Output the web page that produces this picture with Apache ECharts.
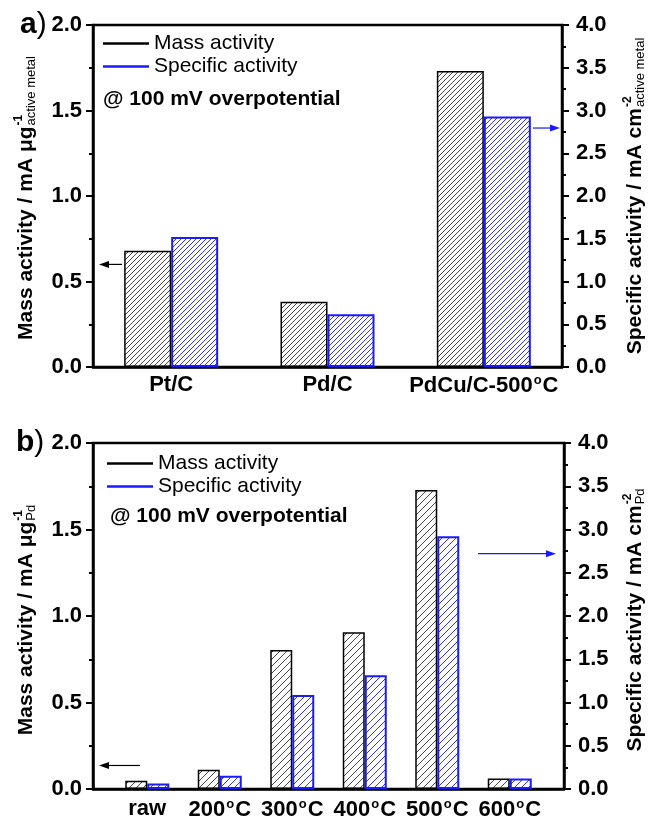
<!DOCTYPE html>
<html>
<head>
<meta charset="utf-8">
<script src="https://cdn.jsdelivr.net/npm/echarts@6/dist/echarts.min.js"></script>
<style>
  html, body { margin: 0; padding: 0; background: #fff; }
  #chart { width: 651px; height: 816px; }
</style>
</head>
<body>
<div id="chart"></div>
<script>
// Panel a: catalyst comparison at 100 mV overpotential
const catalysts = ['Pt/C', 'Pd/C', 'PdCu/C-500°C'];
const catalystMass = [0.68, 0.382, 1.731];        // mA per ug active metal
const catalystSpecific = [1.52, 0.616, 2.93];     // mA per cm2 active metal

// Panel b: PdCu/C annealing temperature series
const temps = ['raw', '200°C', '300°C', '400°C', '500°C', '600°C'];
const tempMass = [0.048, 0.111, 0.804, 0.906, 1.729, 0.061];   // mA per ug Pd
const tempSpecific = [0.065, 0.153, 1.088, 1.315, 2.923, 0.122]; // mA per cm2 Pd

const FONT = '"Liberation Sans", Arial, sans-serif';
const BLUE = '#1a1aff';

function hatch(color, step) {
  const c = document.createElement('canvas');
  c.width = step; c.height = step;
  const g = c.getContext('2d');
  g.strokeStyle = color;
  g.lineWidth = 0.9;
  g.beginPath();
  g.moveTo(-1, step + 1); g.lineTo(step + 1, -1);
  g.moveTo(-1, 1); g.lineTo(1, -1);
  g.moveTo(step - 1, step + 1); g.lineTo(step + 1, step - 1);
  g.stroke();
  return { image: c, repeat: 'repeat' };
}

const labelRich = { o: { fontSize: 13, fontWeight: 'bold', fontFamily: FONT, color: '#000', verticalAlign: 'top', padding: [0, 1, 10, 1] } };
function catLabel(v) { return v.replace('°', '{o|o}'); }

const tickLabel = v => v.toFixed(1);

function valueAxis(gridIndex, max, position, margin) {
  return {
    type: 'value', gridIndex, position, min: 0, max, interval: 0.5,
    axisLine: { show: true, lineStyle: { color: '#000', width: 2.5 } },
    axisTick: { show: true, inside: false, length: 7, lineStyle: { color: '#000', width: 2 } },
    minorTick: { show: true, splitNumber: 2, length: 4, lineStyle: { color: '#000', width: 2 } },
    splitLine: { show: false },
    axisLabel: { formatter: tickLabel, fontSize: 22, fontWeight: 'bold', fontFamily: FONT, color: '#000', margin }
  };
}

function hiddenAxis(gridIndex, max) {
  return { type: 'value', gridIndex, min: 0, max, interval: 0.5, show: false, splitLine: { show: false } };
}

function legendBlock(left, top) {
  return {
    orient: 'vertical', left, top, padding: 0, itemWidth: 46, itemHeight: 2.5, itemGap: 2,
    selectedMode: false, icon: 'rect',
    textStyle: { fontSize: 21, fontFamily: FONT, color: '#000' },
    data: [
      { name: 'Mass activity', itemStyle: { color: '#000', borderWidth: 0 } },
      { name: 'Specific activity', itemStyle: { color: BLUE, borderWidth: 0 } }
    ]
  };
}

function categoryLabel(margin) {
  return { formatter: catLabel, rich: labelRich, interval: 0, hideOverlap: false, fontSize: 22, fontWeight: 'bold', fontFamily: FONT, color: '#000', margin };
}

const option = {
  backgroundColor: '#fff',
  animation: false,
  textStyle: { fontFamily: FONT },
  grid: [
    { left: 93, width: 469, top: 25, height: 342, show: true, borderColor: '#000', borderWidth: 2.5, outerBoundsMode: 'none', containLabel: false },
    { left: 93, width: 471, top: 443, height: 346, show: true, borderColor: '#000', borderWidth: 2.5, outerBoundsMode: 'none', containLabel: false },
    { left: 111, width: 435, top: 443, height: 346, show: false, outerBoundsMode: 'none', containLabel: false }
  ],
  legend: [legendBlock(103, 33), legendBlock(107, 453)],
  xAxis: [
    {
      type: 'category', gridIndex: 0, data: catalysts,
      axisLine: { show: true, lineStyle: { color: '#000', width: 2.5 } },
      axisTick: { show: false },
      axisLabel: categoryLabel(7)
    },
    {
      type: 'value', gridIndex: 1, min: 0, max: 1,
      axisLine: { show: true, onZero: false, lineStyle: { color: '#000', width: 2.5 } },
      axisTick: { show: false }, axisLabel: { show: false }, splitLine: { show: false }
    },
    {
      type: 'category', gridIndex: 2, data: temps,
      axisLine: { show: false }, axisTick: { show: false },
      axisLabel: categoryLabel(9)
    }
  ],
  yAxis: [
    valueAxis(0, 2, 'left', 11),
    valueAxis(0, 4, 'right', 14),
    valueAxis(1, 2, 'left', 11),
    valueAxis(1, 4, 'right', 14),
    hiddenAxis(2, 2),
    hiddenAxis(2, 4)
  ],
  series: [
    {
      name: 'Mass activity', type: 'bar', xAxisIndex: 0, yAxisIndex: 0, data: catalystMass,
      barWidth: 47, barGap: '0%',
      itemStyle: { color: hatch('#333', 5), borderColor: '#000', borderWidth: 1.5 }
    },
    {
      name: 'Specific activity', type: 'bar', xAxisIndex: 0, yAxisIndex: 1, data: catalystSpecific,
      barWidth: 47, barGap: '0%',
      itemStyle: { color: hatch(BLUE, 5), borderColor: BLUE, borderWidth: 2 }
    },
    {
      name: 'Mass activity', type: 'bar', xAxisIndex: 2, yAxisIndex: 4, data: tempMass,
      barWidth: 22, barGap: '0%',
      itemStyle: { color: hatch('#333', 7), borderColor: '#000', borderWidth: 1.5 }
    },
    {
      name: 'Specific activity', type: 'bar', xAxisIndex: 2, yAxisIndex: 5, data: tempSpecific,
      barWidth: 22, barGap: '0%',
      itemStyle: { color: hatch(BLUE, 7), borderColor: BLUE, borderWidth: 2 }
    }
  ]
};

const chart = echarts.init(document.getElementById('chart'), null, { renderer: 'canvas' });
chart.setOption(option);

const graphics = [];

// Arrows pointing each series to its own axis (y given in axis units, x in pixels)
const arrows = [
  { yAxisIndex: 0, value: 0.60, x1: 122, x2: 99, color: '#000' },
  { yAxisIndex: 1, value: 2.795, x1: 533, x2: 560, color: BLUE },
  { yAxisIndex: 2, value: 0.136, x1: 140, x2: 99, color: '#000' },
  { yAxisIndex: 3, value: 2.72, x1: 478, x2: 556, color: BLUE }
];
arrows.forEach(a => {
  const y = chart.convertToPixel({ yAxisIndex: a.yAxisIndex }, a.value);
  const dir = a.x2 > a.x1 ? 1 : -1;
  const base = a.x2 - dir * 10;
  graphics.push({ type: 'line', shape: { x1: a.x1, y1: y, x2: base, y2: y }, style: { stroke: a.color, lineWidth: 1.2 } });
  graphics.push({ type: 'polygon', shape: { points: [[a.x2, y], [base, y - 3.5], [base, y + 3.5]] }, style: { fill: a.color } });
});

// Rotated axis titles with stacked superscript / subscript after the unit
const measureCtx = document.createElement('canvas').getContext('2d');
function textWidth(text, size, weight) {
  measureCtx.font = weight + ' ' + size + 'px "Liberation Sans", Arial, sans-serif';
  return measureCtx.measureText(text).width;
}
function axisTitle(baseX, centerY, main, sup, sub) {
  const MAIN = 21, SUP = 12, SUB = 13;
  const wMain = textWidth(main, MAIN, 'bold');
  const wSub = textWidth(sub, SUB, 'normal');
  const wSup = textWidth(sup, SUP, 'bold');
  const total = wMain + 1 + Math.max(wSub, wSup);
  const x0 = -total / 2;
  const mid = k => -0.33 * k;   // local y of text middle for a baseline at 0
  return {
    type: 'group', x: baseX, y: centerY, rotation: Math.PI / 2,
    children: [
      { type: 'text', x: x0, y: mid(MAIN), style: { text: main, fontSize: MAIN, fontWeight: 'bold', fontFamily: FONT, fill: '#000', align: 'left', verticalAlign: 'middle' } },
      { type: 'text', x: x0 + wMain + 1, y: -10 + mid(SUP), style: { text: sup, fontSize: SUP, fontWeight: 'bold', fontFamily: FONT, fill: '#000', align: 'left', verticalAlign: 'middle' } },
      { type: 'text', x: x0 + wMain + 1, y: 3 + mid(SUB), style: { text: sub, fontSize: SUB, fontFamily: FONT, fill: '#000', align: 'left', verticalAlign: 'middle' } }
    ]
  };
}
graphics.push(axisTitle(33, 198, 'Mass activity / mA μg', '-1', 'active metal'));
graphics.push(axisTitle(642, 196, 'Specific activity / mA cm', '-2', 'active metal'));
graphics.push(axisTitle(33, 620, 'Mass activity / mA μg', '-1', 'Pd'));
graphics.push(axisTitle(642, 620, 'Specific activity / mA cm', '-2', 'Pd'));

// Panel letters and measurement condition
[[20, 10, 'a'], [16, 428, 'b']].forEach(([x, y, t]) => {
  graphics.push({
    type: 'text', left: x, top: y,
    style: {
      text: '{l|' + t + '}{p|)}',
      rich: {
        l: { fontSize: 30, fontWeight: 'bold', fontFamily: FONT, fill: '#000' },
        p: { fontSize: 30, fontFamily: FONT, fill: '#000' }
      }
    }
  });
});
[[103, 89], [110, 506]].forEach(([x, y]) => {
  graphics.push({
    type: 'text', left: x, top: y,
    style: { text: '@ 100 mV overpotential', fontSize: 21, fontWeight: 'bold', fontFamily: FONT, fill: '#000' }
  });
});

chart.setOption({ graphic: graphics });
</script>
</body>
</html>
